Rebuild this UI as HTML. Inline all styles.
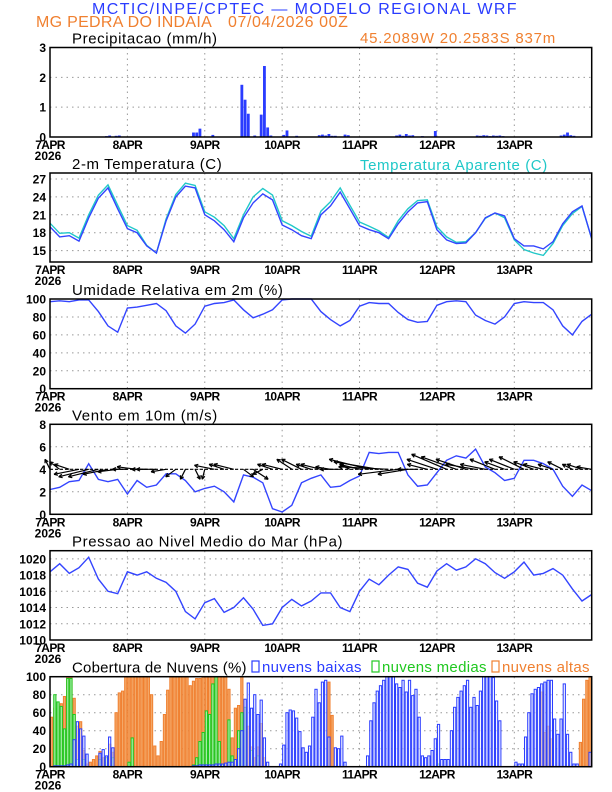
<!DOCTYPE html>
<html><head><meta charset="utf-8"><style>
body{margin:0;background:#fff;}
svg{display:block;font-family:"Liberation Sans",sans-serif;}
.tk{font-size:12px;font-weight:bold;fill:#000;}
.tt{font-size:15px;fill:#000;}
</style></head><body>
<svg id="c" width="612" height="792" viewBox="0 0 612 792">
<text x="305" y="14" text-anchor="middle" font-size="16" fill="#2a3cff" letter-spacing="1.4">MCTIC/INPE/CPTEC — MODELO REGIONAL WRF</text>
<text x="36" y="27" font-size="16" fill="#f08030" letter-spacing="0.3">MG PEDRA DO INDAIA</text>
<text x="228" y="27" font-size="16" fill="#f08030" letter-spacing="0.6">07/04/2026 00Z</text>
<text x="360" y="43" font-size="15" fill="#f08030" letter-spacing="0.8">45.2089W 20.2583S 837m</text>
</svg>
<script>
const days=['7APR','8APR','9APR','10APR','11APR','12APR','13APR'];
const precip=[0,0,0,0,0,0,0,0,0,0,0,0,0,0,0,0,0,0.03,0.05,0,0.04,0.05,0,0,0,0,0,0,0,0,0,0,0,0,0,0,0,0,0,0,0,0,0,0,0.15,0.15,0.28,0,0,0,0.07,0,0,0,0,0,0,0,0,1.75,1.25,0.78,0,0.05,0,0.75,2.38,0.32,0.05,0,0,0,0.07,0.22,0,0,0.04,0,0,0,0,0,0,0.06,0.08,0.05,0.1,0.04,0.04,0,0,0.08,0.06,0,0,0,0,0,0,0,0,0,0,0,0,0,0,0.05,0.08,0.04,0.1,0.05,0.06,0,0,0.03,0,0,0,0.2,0,0,0,0,0,0,0,0,0,0,0,0,0.05,0.04,0.06,0.05,0.03,0.05,0.04,0.05,0.03,0,0,0,0,0,0,0,0,0,0,0,0,0,0,0,0,0,0.05,0.08,0.15,0.06,0.04,0,0,0,0,0,0,0];
const temp=[19,17.3,17.5,16.6,20.5,23.8,25.5,22,18.7,18,15.8,14.6,20,24,25.8,25.5,21,20,18.5,16.5,20.5,23,24.5,23.5,19.3,18.5,17.5,17,21,22.5,24.8,22,19.2,18.5,18,17,19.5,21.5,23,23.2,18.5,16.8,16.2,16.3,18,20.5,21.3,20.8,17,15.8,15.8,15.3,16.5,19.5,21.5,22.5,17];
const tempApar=[19.6,17.9,18,17.1,21,24.3,26,22.6,19.2,18.4,15.9,14.6,20.3,24.4,26.3,25.9,21.5,20.6,19.2,17,21,24,25.4,24.3,20,19.2,18.2,17.4,21.6,23.2,25.5,22.6,19.8,19.1,18.3,17.2,20,22,23.4,23.5,19,17.3,16.4,16.5,18,20.4,21.3,20.5,16.8,15.2,14.6,14.2,16.2,19.2,21.2,22.4,17];
const rh=[97,98,97,99,99,86,70,63,90,91,93,95,87,70,62,72,92,95,96,99,88,79,83,88,99,100,100,100,86,77,70,76,92,96,95,95,85,77,74,75,93,97,98,97,82,76,72,80,95,97,96,96,88,70,60,75,83];
const wspd=[2.2,2.4,2.9,3.0,4.5,3.1,2.9,3.1,1.8,3.0,2.4,2.6,3.6,3.6,3.0,2.0,2.3,2.5,2.0,1.1,3.5,3.3,2.8,0.5,0.2,0.8,2.8,3.2,3.5,2.4,2.5,3.0,3.4,5.5,5.4,5.5,5.5,3.5,2.5,2.6,3.7,4.8,5.2,5.0,5.8,4.2,3.7,3.0,3.2,4.8,4.8,4.5,4.0,2.5,1.6,2.6,2.1];
const windU=[-1,-2,-3,-5,-6,-6,-5,-4,-3,-4,-3,-4,-3,-2,-1,1,-0.5,-4,-3,-4,2,3,-2,-3,-4,-3,-4,-3,-4,-3,-4,-2,-4,-8,-9,-10,-8,-6,-4,-4,-6,-7,-7,-6,-6,-5,-5,-4,-5,-5,-4,-4,-3,-3,-2,-3,-3];
const windV=[2,1.5,1,-1,-1.5,-1.5,-1,-0.5,0,0.5,0,0,-0.5,-1.5,-2,-2,-2,0.8,1,1,-1.5,-2,-1,1,1,2,2,1,1,0.5,0,1,1,2,1.5,0.5,-1,-1,0,1,2,3,2.5,2,1,1,2,1.5,2,2.5,1.5,1,1,1.5,1,1,0.5];
const pres=[1018.4,1019.4,1018.2,1018.9,1020.2,1017.5,1016,1015.7,1018.4,1018,1018.4,1017.6,1017.1,1016,1013.5,1012.6,1014.6,1015.1,1013.4,1014,1015.2,1013.8,1011.8,1012,1014,1015,1014.2,1014.8,1015.8,1015.8,1014,1013.5,1016,1017.5,1016.8,1018,1019,1018.7,1017,1016.5,1018.5,1019.4,1018.6,1019,1020,1019.4,1018.3,1017.6,1018.4,1019.6,1018,1018.2,1018.8,1018,1016.3,1014.8,1015.6];
const cloudLow=[0,1,1,1,1,2,3,30,50,42,34,14, 0,0,0,15,19,12,33,21,0,0,0,0, 0,0,0,0,0,0,0,0,0,0,0,0, 0,0,0,0,0,0,0,0,1,1,2,2, 2,2,2,3,3,3,4,5,5,8,20,40, 75,93,65,80,58,74,32,5,0,0,0,3, 24,60,63,62,54,39,21,16,23,55,86,71, 94,96,33,0,21,20,34,5,0,0,0,0, 0,0,12,51,71,84,90,96,100,100,100,92, 88,96,83,96,79,86,55,12,10,12,18,31, 47,8,8,8,40,66,77,84,90,96,66,77, 68,84,100,100,100,99,73,51,0,0,0,0, 5,3,3,33,60,81,86,88,92,94,96,96, 53,36,53,92,36,16,3,3,0,0,0,16];
const cloudMid=[0,80,72,67,42,98,98,58,8,0,8,0, 0,0,0,8,0,10,0,10,0,0,0,0, 5,32,0,0,0,0,0,0,0,0,0,0, 0,0,0,0,0,0,0,0,2,10,28,38, 62,58,92,100,28,2,0,52,12,0,40,60, 66,0,18,0,12,0,0,0,0,0,0,0, 0,0,0,0,0,0,0,0,0,0,0,0, 0,0,0,0,0,0,0,0,0,0,0,0, 0,0,0,0,0,0,0,0,0,0,0,0, 0,0,0,0,0,0,0,0,0,0,0,0, 3,0,0,0,0,0,0,0,0,0,0,0, 0,0,0,0,0,0,0,0,0,0,0,0, 0,0,0,0,0,0,0,0,0,0,0,0, 0,0,0,0,0,0,0,0,0,0,0,0];
const cloudHigh=[55,65,60,70,78,100,100,76,45,50,18,3, 5,8,12,17,10,10,25,16,60,82,84,100, 100,100,100,100,100,100,100,80,23,12,28,58, 85,100,100,100,100,100,100,90,95,98,98,100, 100,100,100,100,100,100,100,86,32,65,68,100, 60,45,22,10,22,48,10,0,0,0,0,0, 0,0,0,0,0,0,0,0,0,0,0,0, 0,0,94,57,0,0,0,0,0,0,0,0, 0,0,0,0,0,0,0,0,0,0,0,0, 0,0,0,0,0,0,0,0,0,0,0,0, 0,0,0,0,0,0,0,0,0,0,0,0, 0,0,0,0,0,0,0,0,0,0,0,0, 0,0,0,0,0,0,0,0,83,38,45,31, 0,0,0,0,0,0,0,0,27,75,96,100];
const ticksPrecip=[0,1,2,3], ticksTemp=[15,18,21,24,27], ticksRH=[0,20,40,60,80,100], ticksWind=[0,2,4,6,8], ticksPres=[1010,1012,1014,1016,1018,1020], ticksCloud=[0,20,40,60,80,100];

const svg=document.getElementById('c');const NS='http://www.w3.org/2000/svg';
const X0=50,X1=591.7,HRS=168;
function xh(h){return X0+(X1-X0)*h/HRS;}
function mk(t,a,p){const e=document.createElementNS(NS,t);for(const k in a)e.setAttribute(k,a[k]);(p||svg).appendChild(e);return e;}
function panel(name,top,bot,lo,hi,ticks,title,ls){
  const g=mk('g',{});
  
  
  const y=v=>bot-(v-lo)/(hi-lo)*(bot-top);
  ticks.forEach(t=>{
    const l=mk('line',{x1:X0,x2:X1,y1:y(t),y2:y(t),stroke:'#999','stroke-dasharray':'1.5,4'},g);
    
    
    const tx=mk('text',{x:X0-4,y:y(t)+4.5,'text-anchor':'end',class:'tk'},g);tx.textContent=t;
    
    
  });
  days.forEach((d,i)=>{
    const x=xh(i*24);
    if(i>0){const l=mk('line',{x1:x,x2:x,y1:top,y2:bot,stroke:'#999','stroke-dasharray':'1.5,4'},g);
      
      }
    const tx=mk('text',{x:x,y:bot+12,'text-anchor':'middle',class:'tk','letter-spacing':'-0.6'},g);tx.textContent=d;
    
    
  });
  const yr=mk('text',{x:X0-2,y:bot+23,'text-anchor':'middle',class:'tk'},g);yr.textContent='2026';
  
  
  const tt=mk('text',{x:72,y:top-4,class:'tt','letter-spacing':ls||'0.6'},g);tt.textContent=title;
  
  
  return {g,y,top,bot};
}
function frame(p){
  const r=mk('rect',{x:X0,y:p.top,width:X1-X0,height:p.bot-p.top,fill:'none',stroke:'#000','stroke-width':1.5});
  
  
}
function line(p,arr,col,nm){
  const pts=arr.map((v,i)=>xh(i*3).toFixed(1)+','+p.y(v).toFixed(1)).join(' ');
  const l=mk('polyline',{points:pts,fill:'none',stroke:col,'stroke-width':1.4},p.g);
  
  
}
const bw=(X1-X0)/HRS;
const p1=panel('precip',47.5,137,0,3,ticksPrecip,'Precipitacao (mm/h)');
precip.forEach((v,i)=>{if(v<=0)return;
  const r=mk('rect',{x:xh(i)+0.2,y:p1.y(v),width:bw-0.4,height:p1.bot-p1.y(v),fill:'#2a3cff'},p1.g);
  
  });
frame(p1);
const p2=panel('temp',173,262,13.1,28,ticksTemp,'2-m Temperatura (C)');
const ta=mk('text',{x:360,y:170,'font-size':15,fill:'#20c8c8','letter-spacing':'0.6'});ta.textContent='Temperatura Aparente (C)';


line(p2,tempApar,'#20c8c8','apparent-temp-line');
line(p2,temp,'#3344ff','temp-line');
frame(p2);
const p3=panel('rh',299,388.7,0,100,ticksRH,'Umidade Relativa em 2m (%)');
line(p3,rh,'#3344ff','rh-line');frame(p3);
const p4=panel('wind',424.3,514.3,0,8,ticksWind,'Vento em 10m (m/s)');
line(p4,wspd,'#3344ff','wind-speed-line');
const base=p4.y(4);
windU.forEach((u,i)=>{
  const x=xh(i*3),k=5,x2=x+u*k,y2=base-windV[i]*k;
  const a=mk('g',{},p4.g);
  
  
  mk('line',{x1:x,y1:base,x2:x2,y2:y2,stroke:'#000','stroke-width':1.2},a);
  const ang=Math.atan2(y2-base,x2-x),h=4;
  [0.45,-0.45].forEach(d=>mk('line',{x1:x2,y1:y2,x2:x2-h*Math.cos(ang+d),y2:y2-h*Math.sin(ang+d),stroke:'#000','stroke-width':1.2},a));
});
const bl=mk('line',{x1:X0,x2:X1,y1:base,y2:base,stroke:'#000','stroke-width':1.2,'stroke-dasharray':'3,2'},p4.g);


frame(p4);
const p5=panel('pressure',550.7,640,1010,1021,ticksPres,'Pressao ao Nivel Medio do Mar (hPa)');
line(p5,pres,'#3344ff','pressure-line');frame(p5);
const p6=panel('cloud',676.7,766.7,0,100,ticksCloud,'Cobertura de Nuvens (%)','0.2');
function cbars(arr,fill,stroke,nm){arr.forEach((v,i)=>{if(v<=0)return;
  const r=mk('rect',{x:xh(i)+0.5,y:p6.y(v),width:bw-1,height:p6.bot-p6.y(v),fill:fill,stroke:stroke,'stroke-width':1},p6.g);
  
  });}
cbars(cloudHigh,'#f4a868','#f08030','cloud-high-bar');
cbars(cloudMid,'#a8eca8','#20c820','cloud-mid-bar');
cbars(cloudLow,'rgba(235,240,255,0.6)','#2a3cff','cloud-low-bar');
frame(p6);
[['nuvens baixas','#2a3cff',252],['nuvens medias','#20c820',372],['nuvens altas','#f08030',492]].forEach(([t,c,x])=>{
  const g=mk('g',{});
  
  
  mk('rect',{x:x,y:661,width:7,height:11,fill:'none',stroke:c,'stroke-width':1.2},g);
  const tx=mk('text',{x:x+10,y:672,'font-size':15,fill:c,'letter-spacing':'0.3'},g);tx.textContent=t;
});
</script>
</body></html>
